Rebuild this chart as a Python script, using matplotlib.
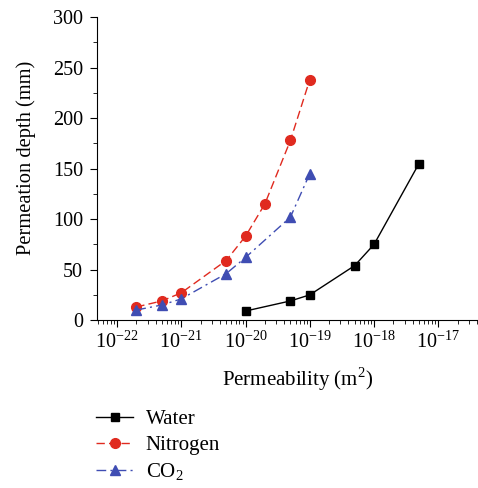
import numpy as np
import matplotlib.pyplot as plt
from matplotlib.ticker import FixedLocator, MultipleLocator, NullFormatter, LogFormatterMathtext

plt.rcParams["font.family"] = ["Liberation Serif", "DejaVu Serif"]
plt.rcParams["mathtext.fontset"] = "custom"
plt.rcParams["mathtext.rm"] = "Liberation Serif"

water_k = [1e-20, 5e-20, 1e-19, 5e-19, 1e-18, 5e-18]
water_d = [9, 19, 25, 54, 75, 155]
nitrogen_k = [2e-22, 5e-22, 1e-21, 5e-21, 1e-20, 2e-20, 5e-20, 1e-19]
nitrogen_d = [13, 19, 27, 59, 83, 115, 178, 238]
co2_k = [2e-22, 5e-22, 1e-21, 5e-21, 1e-20, 5e-20, 1e-19]
co2_d = [10, 15, 21, 46, 62, 102, 145]

fig = plt.figure(figsize=(4.78, 4.88), dpi=100)
ax = fig.add_axes([0.203, 0.344, 0.795, 0.621])

ax.plot(water_k, water_d, color="black", linestyle="-", linewidth=1.0,
        marker="s", markersize=6, label="Water")
ax.plot(nitrogen_k, nitrogen_d, color="#e02a1f", linestyle=(0, (6, 3)), linewidth=1.0,
        marker="o", markersize=7, label="Nitrogen")
ax.plot(co2_k, co2_d, color="#3f4db3", linestyle=(0, (7, 3, 1.5, 3)), linewidth=1.0,
        marker="^", markersize=7, label="CO$_2$")

ax.set_xscale("log")
ax.set_xlim(4.9e-23, 4e-17)
ax.set_ylim(0, 300)
majors = [10.0 ** e for e in range(-22, -16)]
minors = [m * 10.0 ** e for e in range(-23, -16) for m in range(2, 10)
          if 4.9e-23 <= m * 10.0 ** e <= 4e-17]
ax.xaxis.set_major_locator(FixedLocator(majors))
ax.xaxis.set_major_formatter(LogFormatterMathtext())
ax.xaxis.set_minor_locator(FixedLocator(minors))
ax.xaxis.set_minor_formatter(NullFormatter())
ax.yaxis.set_major_locator(MultipleLocator(50))
ax.yaxis.set_minor_locator(MultipleLocator(25))

ax.spines["top"].set_visible(False)
ax.spines["right"].set_visible(False)
ax.tick_params(axis="both", which="major", labelsize=14.5, length=5, width=0.8, direction="out")
ax.tick_params(axis="y", which="major", pad=5)
ax.tick_params(axis="both", which="minor", length=3, width=0.6, direction="out")

ax.set_xlabel("Permeability (m$^2$)", fontsize=15, va="top")
ax.xaxis.set_label_coords(0.529, -0.148)
ax.set_ylabel("Permeation depth (mm)", fontsize=14.8)
ax.yaxis.set_label_coords(-0.16, 0.535)

fig.legend(loc="upper left", bbox_to_anchor=(0.183, 0.178), frameon=False,
           fontsize=15, handlelength=1.8, handletextpad=0.6, labelspacing=0.3,
           borderaxespad=0)

fig.savefig("out.png", dpi=100)
